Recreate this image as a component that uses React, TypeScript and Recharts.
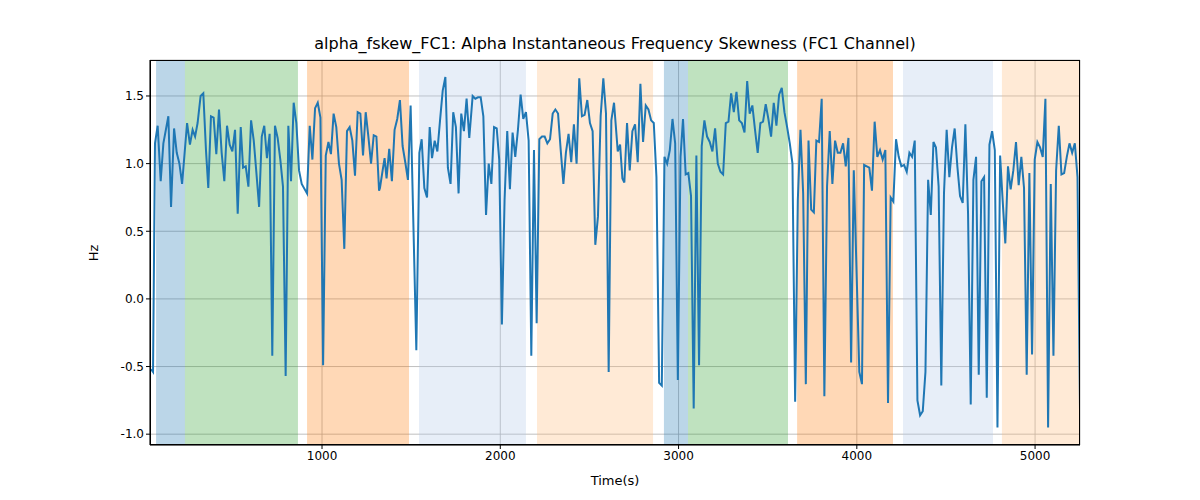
import React from "react";
import { LineChart, Line, XAxis, YAxis, CartesianGrid, ReferenceArea } from "recharts";

const times = [41,52,63,78,95,110,138,153,170,185,200,215,243,259,274,288,302,319,334,349,362,377,392,407,422,437,452,467,482,497,512,527,544,557,572,587,602,617,632,647,662,676,691,706,721,736,751,766,781,796,811,826,841,856,871,886,916,931,946,961,976,991,1006,1021,1036,1050,1065,1080,1095,1110,1125,1140,1155,1170,1185,1200,1215,1230,1245,1260,1275,1290,1305,1320,
1325,1340,1351,1362,1377,1392,1407,1422,1437,1452,1467,1482,1497,1512,1529,1546,1559,1574,1589,1604,1617,1632,1647,1662,1677,1692,1706,1721,1736,1751,1766,1781,1796,1811,1826,1845,1860,1875,1890,1905,1920,1935,1950,1965,1980,1994,2009,2024,2039,2054,2069,2084,2099,2114,2129,2144,2159,2174,2189,2204,2219,2234,2249,2264,2279,2294,2309,2324,2339,2354,2368,2383,2398,2413,2428,2443,2458,2473,2488,2503,2518,2533,2548,2563,2578,2593,2608,2623,2638,
2659,2672,2685,2696,2711,2726,2741,2756,2771,2786,2801,2816,2831,2846,2861,2876,2891,2906,2921,2936,2951,2966,2981,2996,3011,3025,3040,3055,3070,3085,3100,3115,3130,3145,3160,3175,3190,3205,3220,3235,3250,3265,3280,3295,3310,3325,3340,3355,3370,3385,3399,3414,3429,3444,3459,3474,3489,3504,3519,3534,3549,3564,3579,3594,3609,3624,3639,3654,3669,3684,3699,3714,3729,3744,3759,3773,3788,3803,3818,3833,3848,3863,3878,3893,3908,3923,3938,3953,3968,3983,
4014,4029,4041,4056,4070,4085,4100,4115,4130,4145,4160,4175,4190,4205,4220,4235,4250,4265,4280,4295,4310,4325,4340,4355,4370,4385,4400,4415,4430,4444,4459,4474,4489,4504,4519,4534,4549,4564,4579,4594,4609,4624,4639,4654,4669,4684,4699,4714,4729,4744,4759,4774,4789,4804,4818,4833,4848,4863,4878,4893,4908,4923,4938,4953,4968,4983,4998,5013,5028,5043,5058,5073,5088,5103,5118,5133,5148,5163,5178,5193,5208,5223,5238,5252];

const values = [-0.52,-0.54,1.15,1.28,0.87,1.15,1.35,0.68,1.26,1.08,1.0,0.85,1.30,1.14,1.25,1.2,1.3,1.5,1.52,1.1,0.82,1.35,1.34,1.07,1.4,1.08,0.87,1.28,1.14,1.09,1.25,0.63,1.27,0.97,0.98,0.83,1.32,1.17,0.93,0.68,1.2,1.28,1.04,1.22,-0.42,1.28,1.19,1.03,0.83,-0.57,1.28,0.87,1.45,1.3,0.95,0.85,0.78,1.28,1.03,1.41,1.45,1.34,-0.49,1.06,1.16,1.07,1.37,1.27,1.0,0.88,0.37,1.24,1.27,1.17,0.91,1.38,1.37,1.06,1.38,1.2,1.0,1.21,1.2,0.8,
0.82,0.95,1.04,0.89,1.11,0.87,1.25,1.33,1.47,1.13,1.01,0.88,1.43,0.58,-0.38,1.08,1.18,0.82,0.75,1.27,1.04,1.17,1.09,1.32,1.54,1.64,0.97,0.85,1.38,1.27,0.78,1.37,1.24,1.48,1.19,1.5,1.48,1.49,1.49,1.35,0.62,1.0,0.85,1.27,1.26,1.03,-0.19,0.73,1.24,0.81,1.23,1.05,1.25,1.51,1.33,1.38,1.17,-0.42,1.1,-0.18,1.18,1.2,1.2,1.15,1.18,1.37,1.4,1.37,1.1,0.85,1.08,1.22,1.01,1.29,1.0,1.63,1.35,1.36,1.47,1.3,1.24,0.4,0.61,1.35,1.63,1.37,-0.54,1.32,1.45,
1.09,1.14,0.89,0.86,1.3,0.95,1.24,1.29,1.01,1.59,1.16,1.43,1.4,1.32,1.3,0.9,-0.62,-0.64,1.05,1.0,1.1,1.33,1.15,-0.6,1.05,1.33,0.92,0.93,0.76,-0.81,1.06,-0.49,1.13,1.32,1.2,1.16,1.09,1.26,1.0,0.94,0.92,1.3,1.31,1.52,1.38,1.53,1.32,1.3,1.23,1.61,1.37,1.43,1.25,1.08,1.3,1.31,1.44,1.33,1.2,1.45,1.28,1.51,1.56,1.38,1.27,1.15,1.0,-0.76,0.73,1.25,0.78,-0.63,1.17,0.66,0.64,1.17,1.16,1.48,-0.72,0.83,1.24,0.85,1.17,1.08,1.08,1.15,0.98,1.19,-0.47,0.95,
-0.54,-0.63,0.99,0.98,0.97,0.8,1.31,1.05,1.1,1.03,1.1,-0.77,0.75,0.72,1.18,1.05,0.98,0.99,0.94,1.08,1.05,1.17,-0.75,-0.86,-0.83,-0.54,0.88,0.62,1.16,1.12,0.83,-0.64,0.78,1.25,0.9,1.12,1.26,0.98,0.76,0.71,1.29,0.63,-0.78,0.88,1.05,-0.56,0.87,0.9,-0.73,1.14,1.24,1.1,-0.95,1.06,0.73,0.41,0.98,0.81,0.95,1.16,0.84,1.05,0.82,-0.56,0.93,-0.41,1.03,1.16,1.12,1.05,1.48,-0.95,0.85,-0.42,0.95,1.28,0.92,0.93,1.05,1.15,1.08,1.15,0.9,-0.82];

const bandStarts = [69, 231, 916, 1544, 2206, 2918, 3053, 3665, 4259, 4814];
const bandEnds = [231, 865, 1488, 2144, 2857, 3053, 3614, 4203, 4764, 5252];
const bandColors = ["#1f77b4", "#2ca02c", "#ff7f0e", "#aec7e8", "#ffbb78", "#1f77b4", "#2ca02c", "#ff7f0e", "#aec7e8", "#ffbb78"];

const xTicks = [1000, 2000, 3000, 4000, 5000];
const yTicks = [-1.0, -0.5, 0.0, 0.5, 1.0, 1.5];

const data = times.map((t, i) => ({ t, v: values[i] }));
const font = "DejaVu Sans, sans-serif";

export default function App() {
  return (
    <div style={{ position: "absolute", left: 0, top: 0, width: 1200, height: 500, background: "#fff", fontFamily: font }}>
      <div style={{ position: "absolute", top: 34, left: 0, width: 1230, textAlign: "center", fontSize: 16, color: "#000" }}>
        alpha_fskew_FC1: Alpha Instantaneous Frequency Skewness (FC1 Channel)
      </div>
      <LineChart width={1200} height={500} data={data} margin={{ top: 60, right: 120, bottom: 25, left: 100 }}>
        <CartesianGrid stroke="#b0b0b0" strokeWidth={0.8} />
        {bandStarts.map((s, i) => (
          <ReferenceArea key={i} x1={s} x2={bandEnds[i]} fill={bandColors[i]} fillOpacity={0.3} stroke="none" ifOverflow="hidden" />
        ))}
        <XAxis type="number" dataKey="t" domain={[35, 5252]} ticks={xTicks} allowDataOverflow height={30}
          tick={{ fill: "#000", fontSize: 12, fontFamily: font }} stroke="#000" tickSize={4} />
        <YAxis type="number" domain={[-1.08, 1.766]} ticks={yTicks} allowDataOverflow width={50}
          tickFormatter={(v: number) => v.toFixed(1)}
          tick={{ fill: "#000", fontSize: 12, fontFamily: font }} stroke="#000" tickSize={4} />
        <Line type="linear" dataKey="v" stroke="#1f77b4" strokeWidth={2} dot={false} isAnimationActive={false} />
      </LineChart>
      <div style={{ position: "absolute", left: 150, top: 60, width: 930, height: 385, border: "1px solid #000", boxSizing: "border-box", pointerEvents: "none" }} />
      <div style={{ position: "absolute", top: 473, left: 0, width: 1230, textAlign: "center", fontSize: 13, color: "#000" }}>Time(s)</div>
      <div style={{ position: "absolute", left: 93, top: 253, transform: "translate(-50%,-50%) rotate(-90deg)", fontSize: 13, color: "#000" }}>Hz</div>
    </div>
  );
}
